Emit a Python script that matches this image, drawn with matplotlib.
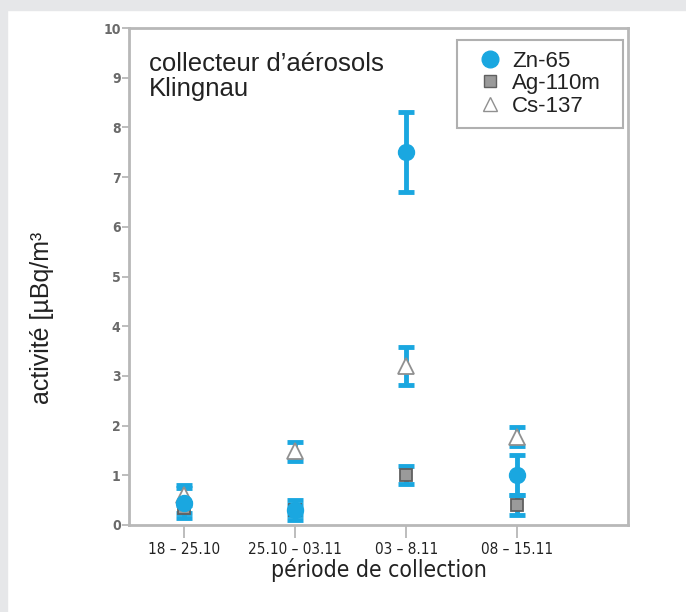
import matplotlib
matplotlib.use("Agg")
import matplotlib.pyplot as plt
from matplotlib.patches import Rectangle
from matplotlib.lines import Line2D
from matplotlib import font_manager

periods = ["18 – 25.10", "25.10 – 03.11", "03 – 8.11", "08 – 15.11"]
zn_vals = [0.45, 0.30, 7.50, 1.00]
zn_err = [0.30, 0.20, 0.80, 0.40]
ag_vals = [0.35, 0.30, 1.00, 0.40]
ag_err = [0.10, 0.10, 0.18, 0.20]
cs_vals = [0.60, 1.48, 3.20, 1.78]
cs_err = [0.20, 0.20, 0.38, 0.20]
labels = ["Zn-65", "Ag-110m", "Cs-137"]

BLUE = "#1aa7e0"
GRAY_BG = "#e6e7e9"
SPINE = "#b8b8b8"
TXT = "#222222"

# look for a condensed face (optional)
narrow = None
for f in font_manager.fontManager.ttflist:
    if f.name == 'Liberation Sans Narrow':
        narrow = (f.name, 'normal')
        break
if narrow is None:
    for f in font_manager.fontManager.ttflist:
        if f.stretch in ('condensed', 'semi-condensed') and f.style == 'normal' and f.name in (
                'DejaVu Sans', 'Roboto', 'Open Sans', 'Noto Sans', 'Liberation Sans', 'Inter', 'Lato'):
            narrow = (f.name, f.stretch)
            break

plt.rcParams['font.family'] = ['Liberation Sans', 'DejaVu Sans']
if narrow:
    nfam = [narrow[0], 'Liberation Sans', 'DejaVu Sans']
    nstretch = narrow[1]
    nscale = 1.0
else:
    nfam = ['Liberation Sans', 'DejaVu Sans']
    nstretch = 'normal'
    nscale = 0.84

fig = plt.figure(figsize=(6.86, 6.12), dpi=100)
fig.patch.set_facecolor("white")
fig.add_artist(Rectangle((0, 0), 7/686, 1, transform=fig.transFigure, color=GRAY_BG, zorder=0))
fig.add_artist(Rectangle((0, 1 - 10/612), 1, 10/612, transform=fig.transFigure, color=GRAY_BG, zorder=0))

L, R, T, B = 129, 628, 28, 525
ax = fig.add_axes([L/686, (612-B)/612, (R-L)/686, (B-T)/612])
x = list(range(1, len(periods) + 1))

eb = dict(fmt='none', ecolor=BLUE, elinewidth=3.5, capsize=6, capthick=3.5, zorder=2)
ax.errorbar(x, cs_vals, yerr=cs_err, **eb)
ax.errorbar(x, ag_vals, yerr=ag_err, **eb)
ax.errorbar(x, zn_vals, yerr=zn_err, **eb)

ax.plot(x, cs_vals, linestyle='none', marker='^', markersize=11, markerfacecolor='white',
        markeredgecolor='#909090', markeredgewidth=1.3, zorder=3)
ax.plot(x, ag_vals, linestyle='none', marker='s', markersize=9, markerfacecolor='#9a9a9a',
        markeredgecolor='#606060', markeredgewidth=1.3, zorder=4)
ax.plot(x, zn_vals, linestyle='none', marker='o', markersize=11.5, markerfacecolor=BLUE,
        markeredgecolor=BLUE, zorder=5)

ax.set_xlim(0.5, 5.0)
ax.set_ylim(0, 10)
ax.set_yticks(range(0, 11))
ax.set_xticks(x)
ax.set_xticklabels(periods, fontsize=11 * nscale, color=TXT, family=nfam, fontstretch=nstretch)
for t in ax.get_yticklabels():
    t.set_fontsize(10 * nscale)
    t.set_family(nfam)
    t.set_stretch(nstretch)
    t.set_color("#6a6a6a")
    t.set_fontweight("bold")
ax.tick_params(axis='y', length=5, width=1.3, color=SPINE, pad=1)
ax.tick_params(axis='x', length=9, width=1.3, color=SPINE, pad=3)
for s in ax.spines.values():
    s.set_color(SPINE)
    s.set_linewidth(2)

fig.text((L + R) / 2 / 686, 1 - 570/612, "période de collection", fontsize=16.5 * nscale,
         color=TXT, ha='center', va='center', family=nfam, fontstretch=nstretch)
fig.text(42/686, 1 - 318/612, "activité [µBq/m³", fontsize=18, color=TXT,
         ha='center', va='center', rotation=90)

ax.text(0.04, 0.952, "collecteur d’aérosols\nKlingnau", transform=ax.transAxes,
        fontsize=18.5, color=TXT, va='top', ha='left', linespacing=1.08)

# legend frame drawn separately (box 457..623 x 40..128 px)
ax.add_patch(Rectangle((0.657, 0.799), 0.333, 0.177, transform=ax.transAxes, facecolor='white',
                       edgecolor='#b0b0b0', linewidth=1.5, zorder=6))
handles = [
    Line2D([], [], linestyle='none', marker='o', markersize=12, markerfacecolor=BLUE, markeredgecolor=BLUE),
    Line2D([], [], linestyle='none', marker='s', markersize=9, markerfacecolor='#9a9a9a', markeredgecolor='#606060'),
    Line2D([], [], linestyle='none', marker='^', markersize=10, markerfacecolor='white', markeredgecolor='#909090'),
]
leg = ax.legend(handles, labels, loc='upper left', bbox_to_anchor=(0.701, 0.954), borderaxespad=0,
                fontsize=16, frameon=False, handletextpad=0.5, labelspacing=0.06,
                borderpad=0, handlelength=1.0)
leg.set_zorder(7)
for t in leg.get_texts():
    t.set_color(TXT)

fig.savefig("out.png", dpi=100, facecolor=fig.get_facecolor())
